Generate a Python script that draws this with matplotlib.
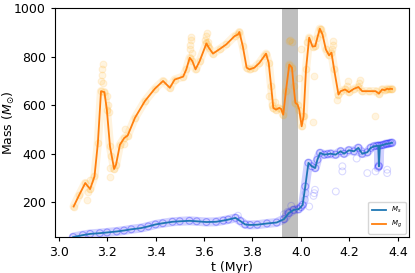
import matplotlib
matplotlib.use("Agg")
import matplotlib.pyplot as plt

# ---- data ----
# stellar mass Ms (smoothed line)
t_s = [3.06, 3.10, 3.13, 3.17, 3.20, 3.24, 3.27, 3.30, 3.34, 3.37, 3.40, 3.43, 3.47, 3.50,
       3.54, 3.57, 3.61, 3.65, 3.68, 3.70, 3.73, 3.75, 3.77, 3.79, 3.82, 3.86, 3.90, 3.93,
       3.95, 3.97, 3.99, 4.000, 4.007, 4.018, 4.031, 4.045, 4.059, 4.068, 4.079, 4.096,
       4.110, 4.123, 4.143, 4.164, 4.178, 4.198, 4.219, 4.237, 4.253, 4.274, 4.288, 4.301,
       4.312, 4.319, 4.322, 4.326, 4.334, 4.342, 4.350, 4.356, 4.363, 4.370, 4.376]
m_s = [56, 64, 69, 72, 75, 79, 83, 88, 93, 100, 108, 113, 119, 121,
       123, 121, 118, 119, 124, 128, 135, 122, 108, 106, 107, 112, 116, 130,
       155, 168, 171, 180, 189, 265, 362, 348, 341, 375, 403, 396,
       398, 400, 396, 410, 400, 414, 410, 424, 400, 406, 424, 430,
       432, 433, 348, 433, 435, 437, 440, 441, 442, 444, 445]

# gas mass Mg (smoothed line)
t_g = [3.062, 3.085, 3.110, 3.130, 3.148, 3.162, 3.175, 3.189, 3.199, 3.212, 3.229, 3.237,
       3.253, 3.271, 3.285, 3.315, 3.356, 3.397, 3.431, 3.459, 3.479, 3.514, 3.527, 3.541,
       3.552, 3.565, 3.582, 3.610, 3.620, 3.637, 3.665, 3.692, 3.726, 3.740, 3.746, 3.760,
       3.776, 3.788, 3.808, 3.829, 3.849, 3.856, 3.867, 3.877, 3.886, 3.897, 3.911, 3.918,
       3.927, 3.938, 3.952, 3.963, 3.970, 3.977, 3.986, 3.993, 4.003, 4.011, 4.021, 4.034,
       4.048, 4.059, 4.068, 4.078, 4.089, 4.103, 4.116, 4.126, 4.137, 4.155, 4.164, 4.182,
       4.198, 4.219, 4.237, 4.253, 4.281, 4.308, 4.322, 4.335, 4.345, 4.356, 4.363, 4.370,
       4.376]
m_g = [182, 230, 279, 254, 306, 444, 658, 654, 582, 430, 337, 355,
       437, 465, 475, 548, 617, 668, 700, 672, 706, 718, 748, 796,
       782, 748, 782, 855, 837, 813, 832, 851, 885, 892, 902, 844,
       755, 748, 755, 775, 803, 813, 775, 679, 589, 582, 589, 585,
       561, 658, 768, 755, 679, 610, 603, 582, 513, 554, 748, 879,
       842, 844, 879, 916, 892, 830, 806, 817, 748, 644, 658, 665,
       654, 668, 675, 658, 658, 658, 648, 665, 662, 668, 666, 668,
       667]

# raw outlying snapshots (circles off the smoothed line)
t_go = [3.118, 3.122, 3.128, 3.176, 3.178, 3.180, 3.182, 3.184, 3.198, 3.202, 3.206,
        3.210, 3.214, 3.218, 3.270, 3.275, 3.541, 3.543, 3.545, 3.547, 3.549, 3.606,
        3.609, 3.612, 3.615, 3.618, 3.868, 3.882, 3.893, 3.949, 3.956, 3.962, 3.993,
        4.000, 4.009, 4.027, 4.050, 4.055, 4.081, 4.128, 4.131, 4.134, 4.190, 4.195,
        4.238, 4.242, 4.305, 4.150]
m_go = [210, 240, 290, 700, 725, 750, 770, 690, 640, 600, 570,
        305, 340, 390, 440, 500, 830, 850, 870, 880, 815, 870,
        885, 900, 860, 845, 637, 599, 615, 865, 868, 860, 713,
        833, 555, 861, 530, 720, 913, 830, 850, 865, 680, 700,
        690, 705, 555, 620]

t_so = [3.740, 3.930, 3.945, 3.960, 4.017, 4.020, 4.034, 4.052, 4.055, 4.058, 4.144,
        4.171, 4.171, 4.274, 4.308, 4.356, 4.356, 4.317, 4.319, 4.321, 4.250, 4.230]
m_so = [144, 150, 160, 185, 210, 237, 182, 226, 237, 251, 244,
        348, 327, 320, 327, 320, 334, 340, 345, 352, 410, 380]

# ---- plot ----
fig = plt.figure(figsize=(4.15, 2.73), dpi=100)
ax = fig.add_axes([0.1325, 0.1308, 0.853, 0.8388])

ax.axvspan(3.92, 3.99, color="gray", alpha=0.5, lw=0, zorder=0)

# dense raw-snapshot bands along the tracks
ax.plot(t_g, m_g, color="orange", alpha=0.13, lw=6, solid_capstyle="round", zorder=1)
ax.plot(t_s, m_s, color="blue", alpha=0.18, lw=6.5, solid_capstyle="round", zorder=1)

ax.scatter(t_g, m_g, s=24, facecolor="orange", edgecolor="orange", alpha=0.12, lw=0.8, zorder=1)
ax.scatter(t_go, m_go, s=24, facecolor="orange", edgecolor="orange", alpha=0.12, lw=0.8, zorder=1)
ax.scatter(t_s, m_s, s=24, facecolor="none", edgecolor="blue", alpha=0.3, lw=0.8, zorder=1)
ax.scatter(t_so, m_so, s=24, facecolor="none", edgecolor="blue", alpha=0.15, lw=0.8, zorder=1)

ax.plot(t_s, m_s, color="tab:blue", lw=1.3, label=r"$M_s$", zorder=3)
ax.plot(t_g, m_g, color="tab:orange", lw=1.3, label=r"$M_g$", zorder=3)

ax.set_xlim(2.985, 4.446)
ax.set_ylim(55, 1000)
ax.set_xticks([3.0, 3.2, 3.4, 3.6, 3.8, 4.0, 4.2, 4.4])
ax.set_yticks([200, 400, 600, 800, 1000])
ax.tick_params(labelsize=9, length=3)
ax.set_xlabel("t (Myr)", fontsize=9, labelpad=1)
ax.set_ylabel(r"Mass ($M_{\odot}$)", fontsize=9)
ax.yaxis.set_label_coords(-0.108, 0.5)
ax.legend(loc="lower right", fontsize=5, handlelength=2.0, borderpad=0.5,
          labelspacing=0.5, framealpha=0.8)

fig.savefig("out.png", dpi=100)
